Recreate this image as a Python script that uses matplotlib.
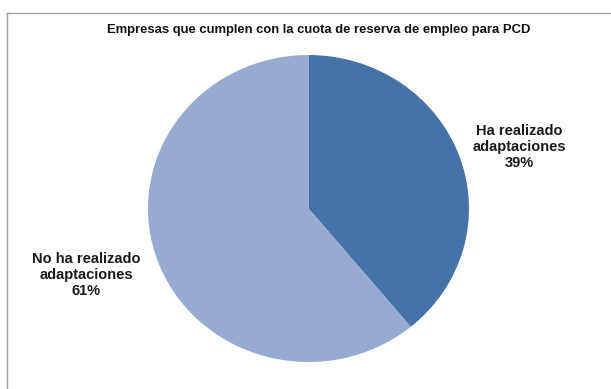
import matplotlib.pyplot as plt
from matplotlib.lines import Line2D

plt.rcParams['font.family'] = ['Liberation Sans', 'DejaVu Sans']

title = "Empresas que cumplen con la cuota de reserva de empleo para PCD"
labels = ["Ha realizado\nadaptaciones", "No ha realizado\nadaptaciones"]
shares = [39, 61]
colors = ["#4673A6", "#96AAD2"]

fig = plt.figure(figsize=(6.11, 3.89), dpi=100)

# outer chart frame (only top and left edges fall inside the image)
fig.add_artist(Line2D([7 / 611, 7 / 611], [0, 1 - 13 / 389], transform=fig.transFigure,
                      color="#A0A0A0", lw=1))
fig.add_artist(Line2D([7 / 611, 1], [1 - 13 / 389, 1 - 13 / 389], transform=fig.transFigure,
                      color="#A0A0A0", lw=1))

ax = fig.add_axes([148 / 611, 27 / 389, 321 / 611, 307 / 389])
ax.pie(shares, colors=colors, startangle=90, counterclock=False,
       wedgeprops=dict(linewidth=0))
ax.set_aspect('auto')
ax.set_xlim(-1, 1)
ax.set_ylim(-1, 1)
ax.axis('off')

fig.text(319 / 611, 1 - 30 / 389, title, ha='center', va='center',
         fontsize=9.35, fontweight='bold', color="#111111")

# data labels beside each slice
label_pos = [(519, 147), (86, 275)]
for (px, py), lab, v in zip(label_pos, labels, shares):
    fig.text(px / 611, 1 - py / 389, f"{lab}\n{v}%", ha='center', va='center',
             fontsize=10.5, fontweight='bold', color="#1A1A1A", linespacing=1.15)

fig.savefig("out.png", dpi=100)
